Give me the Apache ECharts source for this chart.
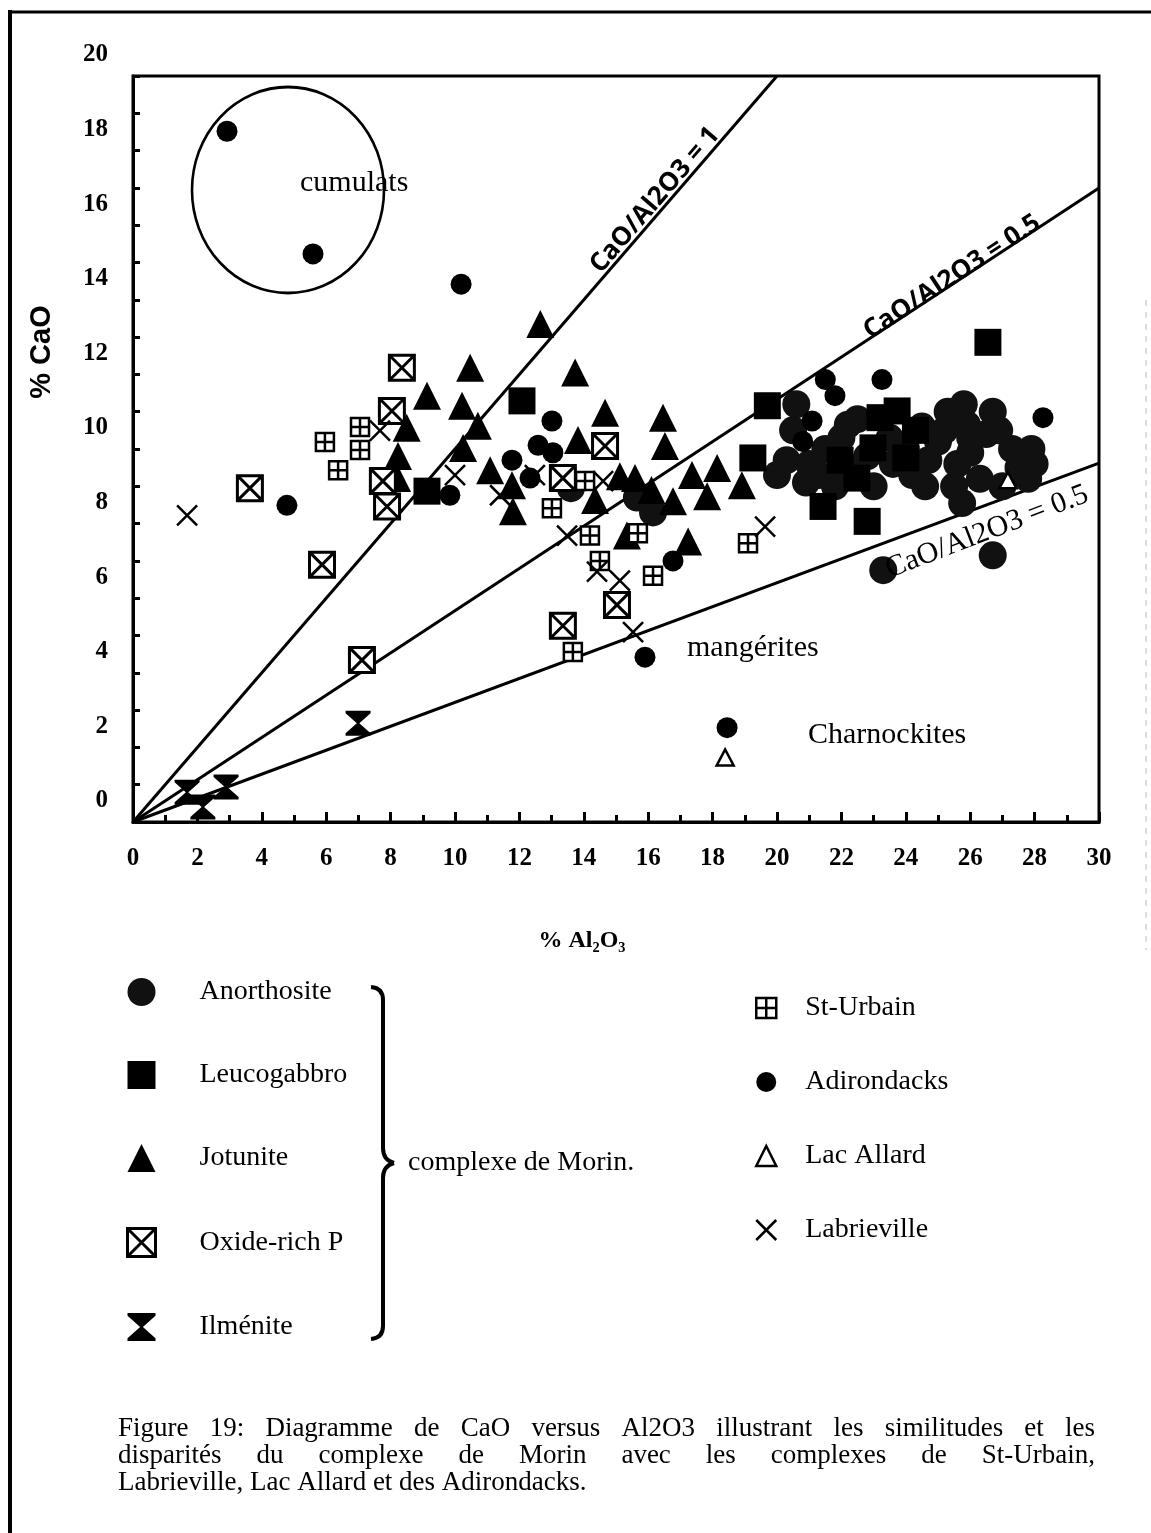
<!DOCTYPE html>
<html>
<head>
<meta charset="utf-8">
<title>CaO vs Al2O3</title>
<script src="https://cdn.jsdelivr.net/npm/echarts@6/dist/echarts.min.js"></script>
<style>
  html, body { margin: 0; padding: 0; background: #fff; }
  #chart { width: 1151px; height: 1533px; }
</style>
</head>
<body>
<div id="chart"></div>
<script>
// % Al2O3 (x) and % CaO (y) for each rock group
const anorthosite = [
  [20.6, 11.2], [22.2, 10.65], [22.0, 10.3], [20.3, 9.7], [22.3, 9.5], [23.6, 9.6],
  [24.5, 10.6], [25.3, 11.0], [25.9, 10.65], [26.7, 11.0], [26.5, 10.4], [25.0, 10.2],
  [25.6, 9.6], [26.3, 9.2], [27.3, 10.0], [27.9, 10.0], [27.5, 9.5], [24.2, 9.3],
  [21.0, 9.6], [21.5, 10.0], [25.75, 8.55], [26.7, 7.15], [23.3, 6.75], [13.6, 8.95],
  [15.65, 8.7], [16.15, 8.3], [20.0, 9.3], [24.0, 10.0], [26.0, 9.9], [27.0, 9.0],
  [20.5, 10.5], [21.3, 9.3], [22.8, 9.8], [23.0, 9.0], [24.7, 9.7], [25.2, 10.5],
  [26.0, 10.3], [26.9, 10.5], [27.8, 9.2], [28.0, 9.6], [24.6, 9.0], [25.5, 9.0],
  [22.5, 10.8], [21.8, 9.0], [20.9, 9.1], [23.5, 10.3], [25.8, 11.2]
];
const leucogabbro = [
  [9.13, 8.87], [12.08, 11.29], [19.7, 11.16], [26.55, 12.86], [21.43, 8.46], [22.8, 8.06],
  [23.2, 10.84], [23.73, 11.02], [19.25, 9.76], [22.48, 9.22], [22.98, 10.03], [24.3, 10.5],
  [24.0, 9.76], [21.96, 9.7]
];
const jotunite = [
  [12.65, 13.35], [10.47, 12.18], [13.73, 12.05], [9.13, 11.43], [10.22, 11.16], [10.71, 10.62],
  [10.25, 10.03], [8.5, 10.57], [8.23, 9.81], [8.2, 9.22], [14.66, 10.97], [13.82, 10.24],
  [16.46, 10.84], [16.52, 10.08], [11.09, 9.43], [11.77, 9.03], [11.8, 8.33], [14.35, 8.63],
  [15.12, 9.27], [15.59, 9.22], [16.77, 8.6], [16.1, 8.9], [17.83, 8.73], [17.36, 9.3],
  [15.34, 7.68], [17.24, 7.52], [18.14, 9.49], [18.91, 9.03]
];
const oxideRich = [
  [8.35, 12.18], [8.04, 11.02], [7.76, 9.14], [7.89, 8.46], [3.63, 8.95], [5.87, 6.9],
  [7.11, 4.34], [13.35, 5.26], [15.03, 5.82], [14.66, 10.08], [13.35, 9.22]
];
const ilmenite = [[6.99, 2.65], [1.68, 0.8], [2.17, 0.4], [2.89, 0.94]];
const stUrbain = [
  [5.96, 10.19], [7.05, 10.59], [7.05, 9.97], [6.37, 9.43], [13.01, 8.41], [14.04, 9.14],
  [14.19, 7.68], [15.68, 7.74], [14.5, 7.0], [16.15, 6.6], [19.1, 7.47], [13.66, 4.56]
];
const adirondacks = [
  [2.92, 18.52], [5.59, 15.23], [10.19, 14.42], [4.78, 8.49], [9.84, 8.76], [13.01, 10.75],
  [12.58, 10.1], [13.04, 9.9], [11.77, 9.7], [12.33, 9.22], [16.77, 7.0], [15.9, 4.42],
  [18.45, 2.53], [21.5, 11.86], [23.26, 11.86], [28.26, 10.84], [21.8, 11.43], [21.09, 10.75],
  [20.8, 10.2]
];
const lacAllard = [[18.39, 1.73], [27.17, 9.16]];
const labrieville = [
  [1.68, 8.22], [7.67, 10.49], [10.0, 9.3], [12.48, 9.3], [11.4, 8.76], [14.6, 9.14],
  [13.48, 7.68], [14.41, 6.71], [15.12, 6.47], [15.53, 5.09], [19.63, 7.92]
];

// reference ratio lines drawn from the origin
const ratioLine1 = [[0, 0], [20, 20]];
const ratioLine2 = [[0, 0], [30, 17.0]];
const ratioLine3 = [[0, 0], [30, 9.62]];

const xTicks = { min: 0, max: 30, step: 2 };
const yTicks = { min: 0, max: 20, step: 2 };

const SERIF = "'Liberation Serif', 'Times New Roman', serif";
const SANS = "'Liberation Sans', Arial, sans-serif";

const boxX = 'path://M0,0L20,0L20,20L0,20Z M0,0L20,20 M20,0L0,20';
const boxPlus = 'path://M0,0L20,0L20,20L0,20Z M10,0L10,20 M0,10L20,10';
const cross = 'path://M0,0L20,20 M20,0L0,20';
const hourglass = 'path://M0,0L20,0L20,2L11,10L20,18L20,20L0,20L0,18L9,10L0,2Z';

function lineSeries(data) {
  return {
    type: 'line', data, symbol: 'none', silent: true, z: 1,
    lineStyle: { color: '#000', width: 3 }, animation: false
  };
}

function scatter(name, data, symbol, size, style, z) {
  return {
    name, type: 'scatter', data, symbol, symbolSize: size, z: z || 3,
    itemStyle: Object.assign({ color: '#000', opacity: 1 }, style),
    emphasis: { disabled: true }, animation: false
  };
}

// measure words so a caption line fills its width
const measureCtx = document.createElement('canvas').getContext('2d');
function justified(text, x0, x1, y, font) {
  measureCtx.font = font;
  const words = text.split(' ');
  const widths = words.map(w => measureCtx.measureText(w).width);
  const total = widths.reduce((a, b) => a + b, 0);
  const gap = (x1 - x0 - total) / (words.length - 1);
  let x = x0;
  return words.map((w, i) => {
    const el = { type: 'text', x, y, style: { text: w, font, fill: '#000', verticalAlign: 'middle' } };
    x += widths[i] + gap;
    return el;
  });
}

const stroke4 = { stroke: '#000', lineWidth: 4, fill: 'none' };
function curve(x1, y1, cx, cy, x2, y2) {
  return { type: 'bezierCurve', shape: { x1, y1, cpx1: cx, cpy1: cy, x2, y2 }, style: stroke4 };
}
function segment(x1, y1, x2, y2) {
  return { type: 'line', shape: { x1, y1, x2, y2 }, style: stroke4 };
}

const chart = echarts.init(document.getElementById('chart'), null, { renderer: 'canvas' });

const captionFont = "27px " + SERIF;
const graphics = [
  // page frame
  { type: 'line', shape: { x1: 10, y1: 10, x2: 10, y2: 1533 }, style: { stroke: '#000', lineWidth: 4 } },
  { type: 'line', shape: { x1: 8, y1: 12, x2: 1151, y2: 12 }, style: { stroke: '#000', lineWidth: 3 } },
  { type: 'line', shape: { x1: 1146, y1: 300, x2: 1146, y2: 950 }, style: { stroke: '#bbb', lineWidth: 1, lineDash: [6, 6] } },
  // cumulats envelope
  { type: 'circle', x: 288, y: 190, scaleY: 103 / 96, shape: { cx: 0, cy: 0, r: 96 },
    style: { fill: 'none', stroke: '#000', lineWidth: 2.6 }, z: 5 },
  { type: 'text', x: 300, y: 183, style: { text: 'cumulats', font: "30px " + SERIF, fill: '#000', verticalAlign: 'middle' }, z: 6 },
  { type: 'text', x: 687, y: 648, style: { text: 'mangérites', font: "30px " + SERIF, fill: '#000', verticalAlign: 'middle' }, z: 6 },
  { type: 'text', x: 808, y: 735, style: { text: 'Charnockites', font: "30px " + SERIF, fill: '#000', verticalAlign: 'middle' }, z: 6 },
  // ratio line captions
  { type: 'text', x: 655, y: 200, rotation: 49.2 * Math.PI / 180,
    style: { text: 'CaO/Al2O3 = 1', font: "bold 26px 'Open Sans', " + SANS, fill: '#000', align: 'center', verticalAlign: 'middle' }, z: 6 },
  { type: 'text', x: 952, y: 277, rotation: 33.3 * Math.PI / 180,
    style: { text: 'CaO/Al2O3 = 0.5', font: "bold 26px 'Open Sans', " + SANS, fill: '#000', align: 'center', verticalAlign: 'middle' }, z: 6 },
  { type: 'text', x: 987, y: 532, rotation: 21 * Math.PI / 180,
    style: { text: 'CaO/Al2O3 = 0.5', font: "30px " + SERIF, fill: '#000', align: 'center', verticalAlign: 'middle' }, z: 6 },
  // axis titles
  { type: 'text', x: 42, y: 352, rotation: Math.PI / 2,
    style: { text: '% CaO', font: "bold 29px " + SANS, fill: '#000', align: 'center', verticalAlign: 'middle' } },
  { type: 'text', x: 582, y: 941,
    style: { text: '% Al₂O₃', font: "bold 24px " + SERIF, fill: '#000', align: 'center', verticalAlign: 'middle' } },
  // brace grouping the Morin rock types
  curve(371, 987, 383, 988, 383, 1000),
  segment(383, 1000, 383, 1148),
  curve(383, 1148, 383, 1160, 394, 1163),
  curve(394, 1163, 383, 1166, 383, 1178),
  segment(383, 1178, 383, 1326),
  curve(383, 1326, 383, 1338, 371, 1339),
  { type: 'text', x: 408, y: 1163, style: { text: 'complexe de Morin.', font: "28px " + SERIF, fill: '#000', verticalAlign: 'middle' } },
  // caption
  ...justified('Figure 19: Diagramme de CaO versus Al2O3 illustrant les similitudes et les', 118, 1095, 1429, captionFont),
  ...justified('disparités du complexe de Morin avec les complexes de St-Urbain,', 118, 1095, 1456, captionFont),
  { type: 'text', x: 118, y: 1483, style: { text: 'Labrieville, Lac Allard et des Adirondacks.', font: captionFont, fill: '#000', verticalAlign: 'middle' } }
];

const axisLabelStyle = { color: '#000', fontFamily: SERIF, fontWeight: 'bold', fontSize: 25 };

const option = {
  backgroundColor: '#fff',
  animation: false,
  grid: {
    left: 133, top: 76, width: 966, height: 746,
    show: true, borderColor: '#000', borderWidth: 3, backgroundColor: 'transparent',
    containLabel: false, outerBoundsMode: 'none'
  },
  xAxis: {
    type: 'value', min: xTicks.min, max: xTicks.max, interval: xTicks.step,
    axisLine: { show: true, onZero: false, lineStyle: { color: '#000', width: 3 } },
    axisTick: { show: true, inside: true, length: 10, lineStyle: { color: '#000', width: 3 } },
    minorTick: { show: true, splitNumber: 2, length: 7, lineStyle: { color: '#000', width: 3 } },
    splitLine: { show: false }, minorSplitLine: { show: false },
    axisLabel: Object.assign({ margin: 24, showMinLabel: true, showMaxLabel: true }, axisLabelStyle)
  },
  yAxis: {
    type: 'value', min: yTicks.min, max: yTicks.max, interval: yTicks.step,
    axisLine: { show: true, onZero: false, lineStyle: { color: '#000', width: 3 } },
    axisTick: { show: true, inside: true, length: 7, lineStyle: { color: '#000', width: 3 } },
    minorTick: { show: true, splitNumber: 2, length: 7, lineStyle: { color: '#000', width: 3 } },
    splitLine: { show: false }, minorSplitLine: { show: false },
    axisLabel: Object.assign({ margin: 25, verticalAlign: 'bottom', lineHeight: 42, showMinLabel: true, showMaxLabel: true }, axisLabelStyle)
  },
  legend: [
    {
      data: ['Anorthosite', 'Leucogabbro', 'Jotunite', 'Oxide-rich P', 'Ilménite'],
      orient: 'vertical', left: 121, top: 973, itemWidth: 28, itemHeight: 28, itemGap: 55,
      selectedMode: false,
      itemStyle: { borderWidth: 'inherit' },
      textStyle: { color: '#000', fontFamily: SERIF, fontSize: 28, padding: [0, 0, 0, 39] }
    },
    {
      data: ['St-Urbain', 'Adirondacks', 'Lac Allard', 'Labrieville'],
      orient: 'vertical', left: 750, top: 989, itemWidth: 20, itemHeight: 20, itemGap: 46,
      selectedMode: false,
      itemStyle: { borderWidth: 'inherit' },
      textStyle: { color: '#000', fontFamily: SERIF, fontSize: 28, padding: [0, 0, 0, 24] }
    }
  ],
  series: [
    lineSeries(ratioLine1),
    lineSeries(ratioLine2),
    lineSeries(ratioLine3),
    scatter('Anorthosite', anorthosite, 'circle', 28, { color: '#111' }, 3),
    scatter('Leucogabbro', leucogabbro, 'rect', 27, { color: '#000' }, 3),
    scatter('Jotunite', jotunite, 'triangle', [28, 28], { color: '#000' }, 4),
    scatter('Oxide-rich P', oxideRich, boxX, 25, { color: '#fff', borderColor: '#000', borderWidth: 3 }, 4),
    scatter('Ilménite', ilmenite, hourglass, [25, 25], { color: '#000' }, 4),
    scatter('St-Urbain', stUrbain, boxPlus, 18, { color: '#fff', borderColor: '#000', borderWidth: 2.5 }, 5),
    scatter('Adirondacks', adirondacks, 'circle', 21, { color: '#000' }, 5),
    scatter('Lac Allard', lacAllard, 'triangle', [17, 16], { color: '#fff', borderColor: '#000', borderWidth: 2.5 }, 5),
    scatter('Labrieville', labrieville, cross, 20, { color: 'transparent', borderColor: '#000', borderWidth: 2.5 }, 5)
  ],
  graphic: graphics
};

chart.setOption(option);
</script>
</body>
</html>
